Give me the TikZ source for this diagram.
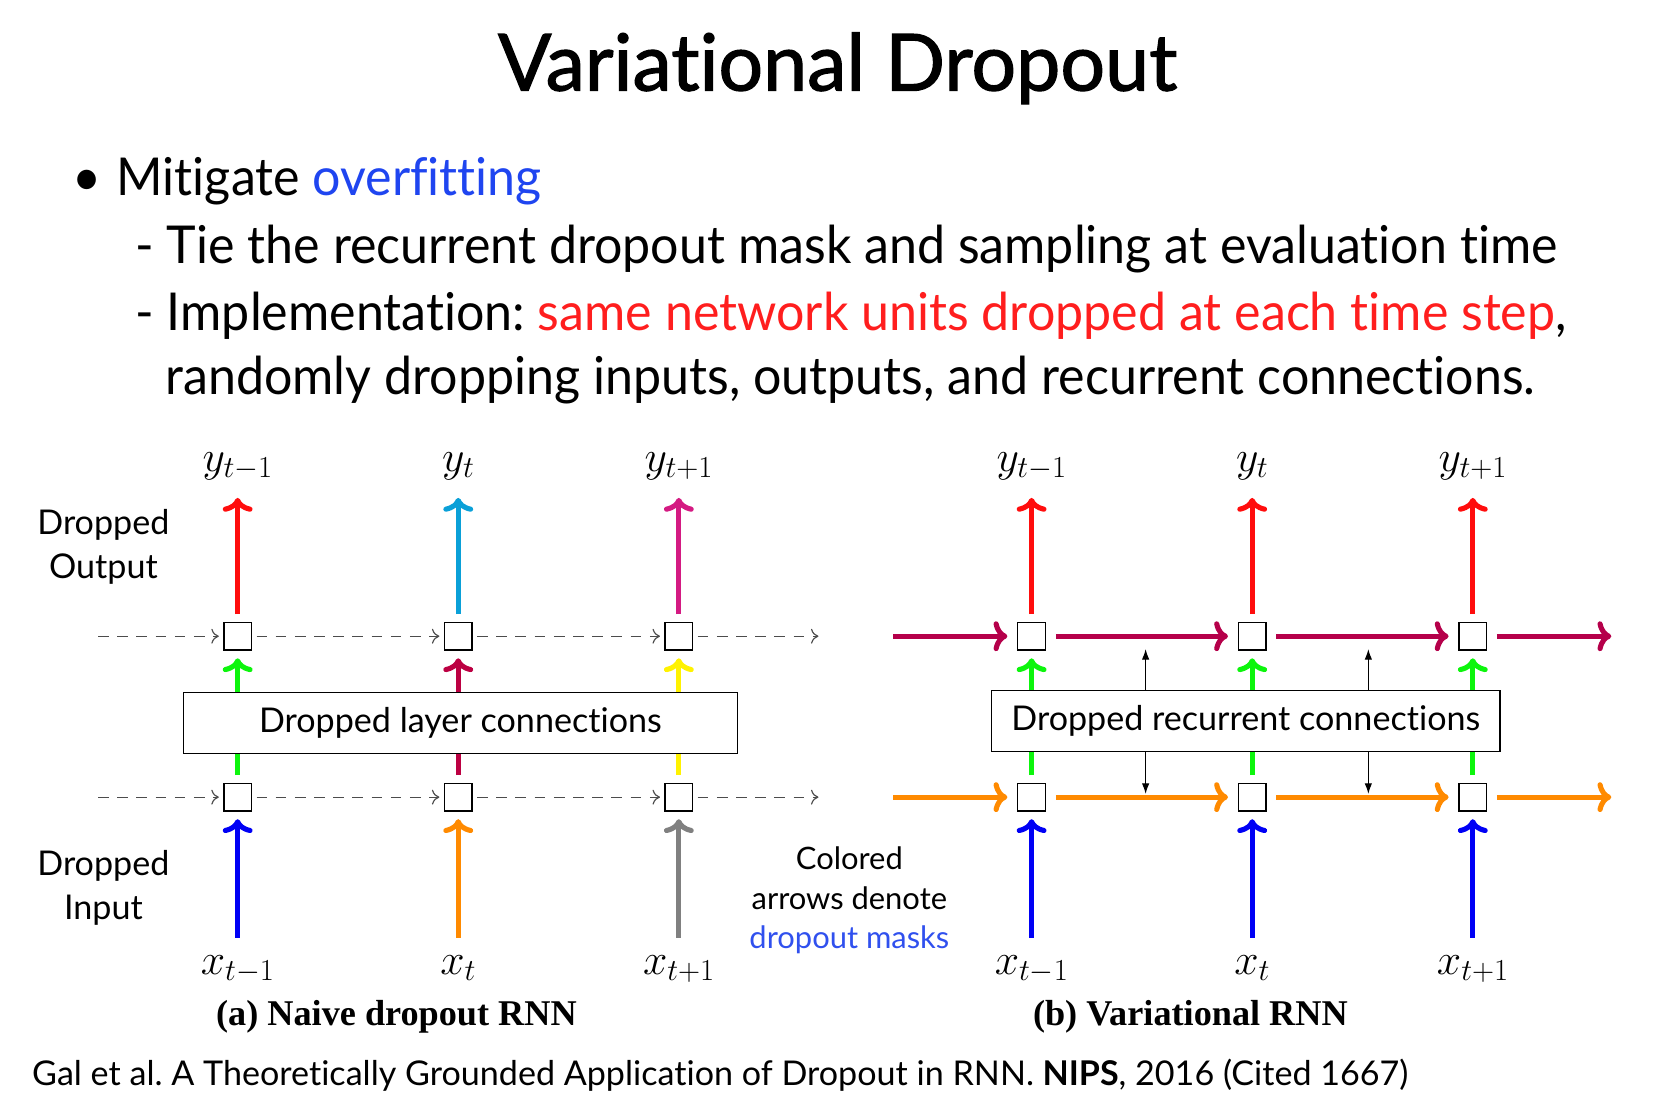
\RequirePackage{fix-cm}
\documentclass[tikz,border=0pt]{standalone}
\usepackage{fontspec}
\setmainfont{Lato}[Ligatures={TeX,NoCommon}]
\newfontfamily\bodyfont{Lato}[FakeStretch=0.96,Ligatures={TeX,NoCommon}]
\newfontfamily\titlefont{Lato}[FakeBold=1.5,Ligatures={TeX,NoCommon}]
\newfontfamily\capfont{Liberation Serif}
\usetikzlibrary{arrows.meta}
\definecolor{outred}{HTML}{FF0D0D}
\definecolor{outcyan}{HTML}{0AA0D8}
\definecolor{outpink}{HTML}{D41A82}
\definecolor{midgreen}{HTML}{0DF50D}
\definecolor{midcrimson}{HTML}{BC0042}
\definecolor{midyellow}{HTML}{FFF200}
\definecolor{inblue}{HTML}{0000F5}
\definecolor{inorange}{HTML}{FF8A00}
\definecolor{ingray}{HTML}{808080}
\definecolor{recred}{HTML}{B5004A}
\definecolor{linkblue}{HTML}{1F45F0}
\definecolor{noteblue}{HTML}{3050EE}
\definecolor{hotred}{HTML}{FF1E1E}
\frenchspacing
\begin{document}
\begin{tikzpicture}[x=1pt,y=-1pt,
    txt/.style={anchor=base west,inner sep=0pt},
    body/.style={txt,font=\bodyfont\fontsize{49}{60}\selectfont},
    cell/.style={draw,line width=1.4pt,minimum size=26pt,inner sep=0pt},
    lab/.style={anchor=base,inner sep=10pt,text height=17pt,text depth=8pt,font=\fontsize{41}{44}\selectfont},
    mask/.style={line width=4.8pt,shorten <=7pt,shorten >=7pt,-{Computer Modern Rightarrow[round,length=13pt,width=28pt]}},
    rec/.style={mask,shorten <=9pt,shorten >=9pt},
    link/.style={line width=1.1pt,black!70,dash pattern=on 10pt off 8pt,shorten <=4pt,shorten >=4pt,-{Computer Modern Rightarrow[length=7pt,width=14pt]}},
    tick/.style={line width=1pt,-{Latex[length=10pt,width=7pt]}},
    layerbox/.style={draw,fill=white,line width=1.2pt,minimum height=57pt,font=\fontsize{32}{38}\selectfont},
    side/.style={align=center,font=\fontsize{32}{41}\selectfont},
    caption/.style={anchor=base,font=\capfont\bfseries\fontsize{34}{40}\selectfont}]
    \useasboundingbox (0,0) rectangle (1568,1043);
    % title and bullets
    \node[anchor=base,font=\titlefont\fontsize{74}{80}\selectfont] (title) at (786,85) {Variational Dropout};
    \node[body] (b1) at (68,183) {•\hspace{14pt}Mitigate \textcolor{linkblue}{overfitting}};
    \node[body] (b2) at (127,247) {-\hspace{12pt}Tie the recurrent dropout mask and sampling at evaluation time};
    \node[body] (b3) at (127,310) {-\hspace{12pt}Implementation: \textcolor{hotred}{same network units dropped at each time step},};
    \node[body] (b4) at (155,370) {randomly dropping inputs, outputs, and recurrent connections.};

    % (a) naive dropout
    \node[cell] (lt1) at (223,597) {}; \node[cell] (lt2) at (430,597) {}; \node[cell] (lt3) at (637,597) {};
    \node[cell] (lb1) at (223,748) {}; \node[cell] (lb2) at (430,748) {}; \node[cell] (lb3) at (637,748) {};
    \node[lab] (ly1) at (223,442) {$y_{t-1}$}; \node[lab] (ly2) at (430,442) {$y_t$}; \node[lab] (ly3) at (637,442) {$y_{t+1}$};
    \node[lab] (lx1) at (223,914) {$x_{t-1}$}; \node[lab] (lx2) at (430,914) {$x_t$}; \node[lab] (lx3) at (637,914) {$x_{t+1}$};
    \draw[mask,outred] (lt1) -- (ly1); \draw[mask,outcyan] (lt2) -- (ly2); \draw[mask,outpink] (lt3) -- (ly3);
    \draw[mask,midgreen] (lb1) -- (lt1); \draw[mask,midcrimson] (lb2) -- (lt2); \draw[mask,midyellow] (lb3) -- (lt3);
    \draw[mask,inblue] (lx1) -- (lb1); \draw[mask,inorange] (lx2) -- (lb2); \draw[mask,ingray] (lx3) -- (lb3);
    \coordinate (ls1) at (88,597); \coordinate (le1) at (772,597);
    \coordinate (ls2) at (88,748); \coordinate (le2) at (772,748);
    \draw[link] (ls1) -- (lt1); \draw[link] (lt1) -- (lt2); \draw[link] (lt2) -- (lt3); \draw[link] (lt3) -- (le1);
    \draw[link] (ls2) -- (lb1); \draw[link] (lb1) -- (lb2); \draw[link] (lb2) -- (lb3); \draw[link] (lb3) -- (le2);
    \node[layerbox,minimum width=520pt] (lbox) at (432,678.5) {Dropped layer connections};
    \node[side] (dout) at (97,513) {Dropped\\Output};
    \node[side] (din) at (97,833) {Dropped\\Input};
    \node[caption] (capa) at (372,962) {(a) Naive dropout RNN};

    % (b) variational
    \node[cell] (rt1) at (968,597) {}; \node[cell] (rt2) at (1175,597) {}; \node[cell] (rt3) at (1382,597) {};
    \node[cell] (rb1) at (968,748) {}; \node[cell] (rb2) at (1175,748) {}; \node[cell] (rb3) at (1382,748) {};
    \node[lab] (ry1) at (968,442) {$y_{t-1}$}; \node[lab] (ry2) at (1175,442) {$y_t$}; \node[lab] (ry3) at (1382,442) {$y_{t+1}$};
    \node[lab] (rx1) at (968,914) {$x_{t-1}$}; \node[lab] (rx2) at (1175,914) {$x_t$}; \node[lab] (rx3) at (1382,914) {$x_{t+1}$};
    \draw[mask,outred] (rt1) -- (ry1); \draw[mask,outred] (rt2) -- (ry2); \draw[mask,outred] (rt3) -- (ry3);
    \draw[mask,midgreen] (rb1) -- (rt1); \draw[mask,midgreen] (rb2) -- (rt2); \draw[mask,midgreen] (rb3) -- (rt3);
    \draw[mask,inblue] (rx1) -- (rb1); \draw[mask,inblue] (rx2) -- (rb2); \draw[mask,inblue] (rx3) -- (rb3);
    \coordinate (rs1) at (829,597); \coordinate (re1) at (1521,597);
    \coordinate (rs2) at (829,748); \coordinate (re2) at (1521,748);
    \draw[rec,recred] (rs1) -- (rt1); \draw[rec,recred] (rt1) -- (rt2); \draw[rec,recred] (rt2) -- (rt3); \draw[rec,recred] (rt3) -- (re1);
    \draw[rec,inorange] (rs2) -- (rb1); \draw[rec,inorange] (rb1) -- (rb2); \draw[rec,inorange] (rb2) -- (rb3); \draw[rec,inorange] (rb3) -- (re2);
    \node[layerbox,minimum width=477pt] (rbox) at (1169,676.5) {Dropped recurrent connections};
    \coordinate (ru1) at (1075,609); \coordinate (ru2) at (1284,609);
    \coordinate (rd1) at (1075,745); \coordinate (rd2) at (1284,745);
    \draw[tick] (rbox.north -| ru1) -- (ru1); \draw[tick] (rbox.north -| ru2) -- (ru2);
    \draw[tick] (rbox.south -| rd1) -- (rd1); \draw[tick] (rbox.south -| rd2) -- (rd2);
    \node[side,font=\fontsize{29}{37}\selectfont] (note) at (797,845) {Colored\\arrows denote\\\textcolor{noteblue}{dropout masks}};
    \node[caption] (capb) at (1117,962) {(b) Variational RNN};

    % reference
    \node[txt,font=\fontsize{32}{36}\selectfont] (cite) at (30,1019) {Gal et al. A Theoretically Grounded Application of Dropout in RNN. \textbf{NIPS}, 2016 (Cited 1667)};
\end{tikzpicture}
\end{document}
